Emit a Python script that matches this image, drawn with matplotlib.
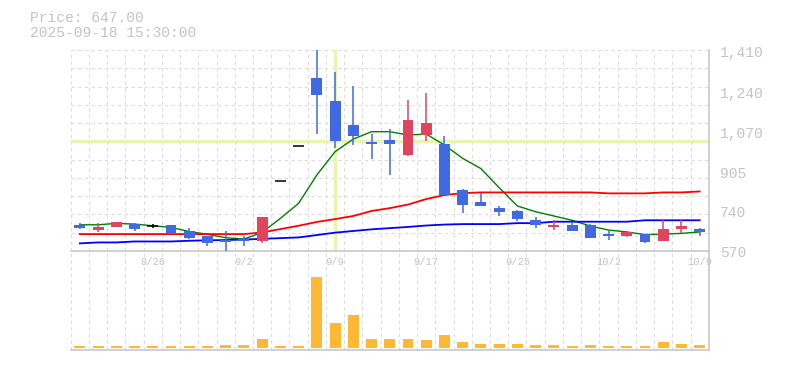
import numpy as np
import matplotlib.pyplot as plt
from matplotlib.transforms import blended_transform_factory

# trading days shown on the chart
dates = ['8/20', '8/21', '8/22', '8/25', '8/26', '8/27', '8/28', '8/29', '9/1', '9/2',
         '9/3', '9/4', '9/5', '9/8', '9/9', '9/10', '9/11', '9/12', '9/16', '9/17',
         '9/18', '9/19', '9/22', '9/24', '9/25', '9/26', '9/29', '9/30', '10/1', '10/2',
         '10/3', '10/6', '10/7', '10/8', '10/9']
shown_dates = ['8/26', '9/2', '9/9', '9/17', '9/25', '10/2', '10/9']

opens = [690, 669, 682, 694, 685, 690, 664, 643, 626, 630,
         623, 872, 1022, 1306, 1210, 1109, 1038, 1046, 983, 1067,
         1029, 836, 786, 760, 748, 710, 681, 689, 689, 651,
         643, 651, 622, 672, 672]
highs = [696, 696, 702, 699, 692, 690, 676, 643, 664, 643,
         722, 872, 1022, 1424, 1332, 1273, 1071, 1092, 1214, 1243,
         1063, 840, 823, 769, 752, 723, 710, 697, 693, 664,
         664, 651, 710, 710, 676]
lows = [672, 660, 682, 665, 676, 657, 630, 601, 580, 602,
        615, 872, 1022, 1071, 1012, 1025, 966, 899, 979, 1042,
        815, 739, 770, 727, 706, 676, 668, 664, 634, 626,
        639, 613, 622, 655, 643]
closes = [678, 679, 702, 673, 685, 657, 636, 615, 618, 622,
          722, 872, 1022, 1235, 1043, 1063, 1029, 1029, 1130, 1117,
          815, 773, 770, 744, 714, 689, 689, 664, 634, 643,
          660, 618, 672, 685, 660]
volumes = [20, 20, 20, 20, 20, 20, 20, 20, 30, 30,
           90, 20, 20, 713, 250, 330, 90, 90, 90, 80,
           130, 60, 40, 40, 40, 30, 30, 20, 30, 20,
           20, 20, 60, 40, 30]

ma_short = [690, 690, 696, 693, 686, 679, 662, 650, 636, 630,
            658, 717, 780, 899, 997, 1050, 1081, 1081, 1067, 1071,
            1025, 969, 926, 846, 769, 745, 727, 709, 685, 668,
            660, 649, 651, 654, 660]
ma_mid = [651, 651, 651, 651, 651, 651, 651, 651, 651, 651,
          658, 672, 686, 702, 714, 727, 748, 760, 775, 798,
          815, 823, 826, 826, 826, 826, 826, 826, 826, 822,
          822, 822, 826, 826, 830]
ma_long = [612, 616, 616, 620, 620, 620, 623, 625, 626, 628,
           631, 634, 637, 647, 657, 664, 671, 676, 681, 687,
           691, 693, 693, 693, 697, 697, 703, 703, 703, 703,
           703, 709, 709, 709, 709]

price_ticks = [570, 740, 905, 1070, 1240, 1410]
price_tick_labels = ['570', '740', '905', '1,070', '1,240', '1,410']

cross_idx = 14
header = ['Price: 647.00', '2025-09-18 15:30:00']

W, H = 785, 370
grey = '#c4c4c4'
gridc = '#dcdcdc'
up_c = '#e0445f'
down_c = '#4169e1'
mono = 'Liberation Mono'

fig = plt.figure(figsize=(W / 100, H / 100), dpi=100)
ax = fig.add_axes([70.7 / W, 1 - 251 / H, 638.1 / W, 201 / H])
axv = fig.add_axes([70.7 / W, 1 - 350 / H, 638.1 / W, 99 / H])
axv.set_facecolor('none')

x = np.arange(len(dates))
o = np.array(opens)
c = np.array(closes)
hi = np.array(highs)
lo = np.array(lows)

ax.set_xlim(-0.5, len(dates) - 0.5)
ax.set_ylim(min(lows), max(highs))
axv.set_xlim(-0.5, len(dates) - 0.5)
axv.set_ylim(-20, 970)

# grid
for a in (ax, axv):
    for xv in np.arange(-0.5, len(dates), 1):
        a.axvline(xv, color=gridc, lw=0.8, ls=(0, (3, 3)), zorder=0)
for yv in np.linspace(min(lows), max(highs), 12):
    ax.axhline(yv, color=gridc, lw=0.8, ls=(0, (3, 3)), zorder=0)

# crosshair
ax.axvline(cross_idx, color='#e8f5b0', lw=2.4, zorder=1)
ax.axhline(closes[cross_idx], color='#e8f5b0', lw=2.4, zorder=1)

# moving averages
ax.plot(x, ma_short, color='#008000', lw=1.0, zorder=2)
ax.plot(x, ma_mid, color='#ff0000', lw=1.3, zorder=2)
ax.plot(x, ma_long, color='#0000ff', lw=1.3, zorder=2)

# candles
cols = np.where(c > o, up_c, np.where(c < o, down_c, 'black'))
ax.vlines(x, lo, hi, colors=cols, lw=1.1, zorder=3)
ax.bar(x, np.abs(c - o), bottom=np.minimum(o, c), width=0.6, color=cols, zorder=3)
flat = c == o
ax.hlines(c[flat], x[flat] - 0.3, x[flat] + 0.3, colors='black', lw=1.1, zorder=3)

# volume
axv.bar(x, volumes, width=0.6, color='#ffb833', zorder=2)

for a in (ax, axv):
    for s in ('left', 'top'):
        a.spines[s].set_visible(False)
    for s in ('bottom', 'right'):
        a.spines[s].set_color(grey)
        a.spines[s].set_linewidth(1.1)
    a.set_yticks([])
axv.set_xticks([])

ax.set_xticks([dates.index(d) for d in shown_dates])
ax.set_xticklabels(shown_dates, fontfamily=mono, fontsize=7.5, color=grey)
ax.tick_params(axis='x', length=0, pad=4)

tr = blended_transform_factory(ax.transAxes, ax.transData)
for v, lab in zip(price_ticks, price_tick_labels):
    ax.text(1.0176, v, lab, transform=tr, ha='left', va='center',
            fontfamily=mono, fontsize=10.5, color=grey, clip_on=False)

fig.text(30 / W, 1 - 18 / H, header[0], ha='left', va='center',
         fontfamily=mono, fontsize=10.5, color=grey)
fig.text(30 / W, 1 - 33 / H, header[1], ha='left', va='center',
         fontfamily=mono, fontsize=10.5, color=grey)

fig.savefig('out.png', dpi=100)
